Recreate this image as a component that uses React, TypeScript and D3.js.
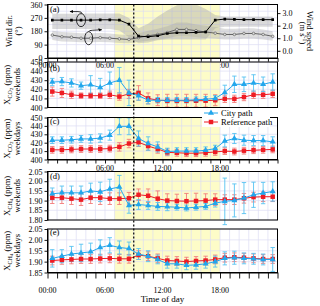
import React, { useEffect, useRef } from "react";
import * as d3 from "d3";

// ---- data (hour of day, centre of each hourly bin) ----
const hours = [0.5, 1.5, 2.5, 3.5, 4.5, 5.5, 6.5, 7.5, 8.5, 9.5, 10.5, 11.5, 12.5, 13.5, 14.5, 15.5, 16.5, 17.5, 18.5, 19.5, 20.5, 21.5, 22.5, 23.5];
const hourTicks = [0, 1, 2, 3, 4, 5, 6, 7, 8, 9, 10, 11, 12, 13, 14, 15, 16, 17, 18, 19, 20, 21, 22, 23, 24];
const labelHours = [0, 6, 12, 18];
const labelTexts = ["00:00", "06:00", "12:00", "18:00"];
const rushHours = [7, 18];
const markerHour = 9;

// panel (a): wind
const windDir = [255, 255, 255, 255, 255, 257, 257, 255, 228, 147, 143, 150, 165, 170, 170, 172, 175, 255, 262, 260, 258, 258, 258, 258];
const windDirLo = [195, 195, 195, 195, 195, 195, 195, 185, 140, 100, 105, 120, 125, 125, 125, 125, 125, 200, 210, 210, 210, 210, 210, 210];
const windDirHi = [298, 298, 298, 298, 300, 300, 300, 300, 270, 200, 230, 280, 320, 355, 375, 360, 330, 290, 280, 280, 280, 280, 280, 280];
const windSpeed = [1.25, 1.12, 1.08, 1.0, 1.0, 1.05, 1.0, 0.95, 0.9, 1.05, 1.2, 1.3, 1.45, 1.7, 1.7, 1.6, 1.5, 1.4, 1.3, 1.3, 1.38, 1.38, 1.3, 1.15];
const windSpeedLo = [0.85, 0.75, 0.72, 0.68, 0.68, 0.7, 0.68, 0.62, 0.6, 0.7, 0.8, 0.9, 1.0, 1.15, 1.15, 1.1, 1.0, 0.95, 0.9, 0.9, 0.95, 0.95, 0.9, 0.8];
const windSpeedHi = [1.6, 1.5, 1.45, 1.4, 1.4, 1.42, 1.38, 1.3, 1.25, 1.4, 1.6, 1.75, 1.95, 2.25, 2.25, 2.1, 2.0, 1.9, 1.75, 1.75, 1.8, 1.8, 1.7, 1.55];

// panel (b): CO2 weekends
const co2WeCity = [428, 428.5, 427, 424, 425, 422, 427, 430, 416, 413, 408, 408, 408, 408, 408, 408.5, 409, 410, 416.5, 425.5, 425.5, 427, 425.5, 428];
const co2WeCityErr = [4, 4.5, 4.5, 4, 10, 10, 12, 14, 14, 5, 4, 3, 3, 3, 3, 3, 3, 3, 8, 9, 8, 9, 8, 9];
const co2WeRef = [417.5, 416, 414, 413, 413, 413, 414, 412, 415, 416, 410, 408, 407.5, 407.5, 407.5, 407.5, 407.5, 408, 409.5, 409.5, 411.5, 414, 414, 415];
const co2WeRefErr = [5, 5, 4, 3, 3, 3, 4, 4, 5, 8, 6, 6, 7, 7, 7, 7, 7, 6, 4, 4, 4, 4, 4, 4];

// panel (c): CO2 weekdays
const co2WdCity = [423, 423, 423.5, 424.5, 424.5, 425.5, 429, 439.5, 439.5, 425, 419, 415, 409.5, 410, 410, 410, 411, 413, 422, 425, 423, 422.5, 422.5, 421];
const co2WdCityErr = [4, 4, 4, 4, 5, 5, 6, 10, 10, 9, 8, 6, 4, 4, 4, 4, 4, 4, 7, 6, 6, 6, 6, 6];
const co2WdRef = [411.5, 411.5, 412, 412.5, 412.5, 412.5, 413, 415, 419, 420.5, 416, 412.5, 408.5, 408, 407.5, 407.5, 408, 409, 410, 409.5, 410.5, 411, 411.5, 412];
const co2WdRefErr = [4, 4, 4, 4, 4, 4, 4, 5, 5, 5, 5, 5, 4, 4, 4, 4, 4, 4, 4, 4, 4, 4, 4, 4];

// panel (d): CH4 weekends
const ch4WeCity = [1.935, 1.94, 1.94, 1.94, 1.95, 1.945, 1.96, 1.97, 1.875, 1.88, 1.875, 1.87, 1.868, 1.866, 1.862, 1.866, 1.87, 1.887, 1.896, 1.901, 1.913, 1.93, 1.939, 1.947];
const ch4WeCityErr = [0.03, 0.035, 0.035, 0.035, 0.04, 0.05, 0.05, 0.06, 0.04, 0.025, 0.02, 0.02, 0.02, 0.015, 0.015, 0.015, 0.015, 0.02, 0.12, 0.085, 0.08, 0.065, 0.055, 0.05];
const ch4WeRef = [1.915, 1.915, 1.91, 1.905, 1.915, 1.915, 1.91, 1.91, 1.912, 1.93, 1.925, 1.91, 1.9, 1.898, 1.897, 1.898, 1.9, 1.905, 1.905, 1.905, 1.912, 1.918, 1.92, 1.92];
const ch4WeRefErr = [0.03, 0.03, 0.03, 0.03, 0.03, 0.035, 0.03, 0.03, 0.03, 0.03, 0.035, 0.04, 0.035, 0.035, 0.04, 0.04, 0.035, 0.03, 0.025, 0.025, 0.025, 0.025, 0.025, 0.025];

// panel (e): CH4 weekdays
const ch4WdCity = [1.915, 1.925, 1.935, 1.94, 1.945, 1.965, 1.975, 1.965, 1.96, 1.935, 1.925, 1.91, 1.89, 1.89, 1.883, 1.885, 1.89, 1.9, 1.915, 1.918, 1.915, 1.913, 1.91, 1.91];
const ch4WdCityErr = [0.04, 0.03, 0.035, 0.04, 0.04, 0.035, 0.035, 0.03, 0.03, 0.025, 0.025, 0.02, 0.02, 0.02, 0.02, 0.02, 0.02, 0.025, 0.03, 0.03, 0.025, 0.025, 0.025, 0.055];
const ch4WdRef = [1.905, 1.908, 1.91, 1.912, 1.912, 1.914, 1.915, 1.913, 1.913, 1.93, 1.925, 1.915, 1.905, 1.903, 1.9, 1.903, 1.905, 1.91, 1.918, 1.92, 1.918, 1.915, 1.912, 1.912];
const ch4WdRefErr = [0.02, 0.02, 0.02, 0.02, 0.02, 0.02, 0.02, 0.02, 0.02, 0.02, 0.02, 0.02, 0.02, 0.02, 0.02, 0.02, 0.02, 0.02, 0.02, 0.02, 0.02, 0.02, 0.02, 0.02];

const legendLabels = ["City path", "Reference path"];

const FONT = "'Liberation Serif', 'Times New Roman', serif";
const BLUE = "#22a6ec";
const BLUE_ERR = "#56c2f2";
const RED = "#ee1c24";
const RED_ERR = "#f27a7a";
const GRID = "#dcdcf3";
const YELLOW = "#fdfcc8";

interface Panel {
  tag: string;
  top: number;
  bottom: number;
  domain: [number, number];
  ticks: number[];
  fmt: string;
  gas: string;
  sub: string;
  period: string;
  tagY: number;
  city: number[];
  cityErr: number[];
  ref: number[];
  refErr: number[];
  xAxis: null | { tick: number; baseline: number; first: number };
}

const PANELS: Panel[] = [
  { tag: "(b)", top: 62, bottom: 107.5, domain: [400, 450], ticks: [400, 410, 420, 430, 440, 450], fmt: "d", gas: "CO", sub: "2", period: "weekends", tagY: 71, city: co2WeCity, cityErr: co2WeCityErr, ref: co2WeRef, refErr: co2WeRefErr, xAxis: null },
  { tag: "(c)", top: 117.5, bottom: 159.5, domain: [400, 450], ticks: [400, 410, 420, 430, 440, 450], fmt: "d", gas: "CO", sub: "2", period: "weekdays", tagY: 124, city: co2WdCity, cityErr: co2WdCityErr, ref: co2WdRef, refErr: co2WdRefErr, xAxis: { tick: 4, baseline: 171, first: 1 } },
  { tag: "(d)", top: 171.5, bottom: 220, domain: [1.8, 2.05], ticks: [1.8, 1.85, 1.9, 1.95, 2.0, 2.05], fmt: ".2f", gas: "CH", sub: "4", period: "weekends", tagY: 179, city: ch4WeCity, cityErr: ch4WeCityErr, ref: ch4WeRef, refErr: ch4WeRefErr, xAxis: null },
  { tag: "(e)", top: 229, bottom: 272.5, domain: [1.85, 2.05], ticks: [1.85, 1.9, 1.95, 2.0, 2.05], fmt: ".2f", gas: "CH", sub: "4", period: "weekdays", tagY: 235, city: ch4WdCity, cityErr: ch4WdCityErr, ref: ch4WdRef, refErr: ch4WdRefErr, xAxis: { tick: 6, baseline: 292.5, first: 0 } },
];

const App: React.FC = () => {
  const svgRef = useRef<SVGSVGElement>(null);

  useEffect(() => {
    if (!svgRef.current) return;
    const svg = d3.select(svgRef.current);
    svg.selectAll("*").remove();

    const x = d3.scaleLinear().domain([0, 24]).range([47.5, 277.5]);
    const [x0, x1] = x.range();

    const styleAxis = (sel: d3.Selection<SVGGElement, unknown, null, undefined>) => {
      sel.selectAll("text")
        .attr("font-family", FONT)
        .attr("font-size", 8)
        .attr("fill", "#000")
        .style("fill", "#000");
      sel.selectAll("line").attr("stroke", "#000").attr("stroke-width", 0.9);
      sel.select(".domain").attr("stroke", "#000").attr("stroke-width", 1);
    };

    // background of a panel: yellow rush-hour band + grid
    const drawBack = (top: number, bottom: number, gridYs: number[]) => {
      const g = svg.append("g");
      g.append("rect")
        .attr("x", x(rushHours[0]))
        .attr("width", x(rushHours[1]) - x(rushHours[0]))
        .attr("y", top)
        .attr("height", bottom - top)
        .attr("fill", YELLOW);
      g.selectAll("line.v")
        .data(hourTicks)
        .join("line")
        .attr("class", "v")
        .attr("x1", (d) => x(d))
        .attr("x2", (d) => x(d))
        .attr("y1", top)
        .attr("y2", bottom)
        .attr("stroke", GRID)
        .attr("stroke-width", 0.7);
      g.selectAll("line.h")
        .data(gridYs)
        .join("line")
        .attr("class", "h")
        .attr("x1", x0)
        .attr("x2", x1)
        .attr("y1", (d) => d)
        .attr("y2", (d) => d)
        .attr("stroke", GRID)
        .attr("stroke-width", 0.7);
    };

    const frame = (top: number, bottom: number) => {
      svg.append("rect")
        .attr("x", x0)
        .attr("y", top)
        .attr("width", x1 - x0)
        .attr("height", bottom - top)
        .attr("fill", "none")
        .attr("stroke", "#000")
        .attr("stroke-width", 1);
    };

    // hourly ticks below a panel, time labels every 6 h
    const xAxis = (yPos: number, tick: number, baseline: number, first: number) => {
      const ax = svg.append("g")
        .attr("transform", `translate(0,${yPos})`)
        .call(d3.axisBottom(x).tickValues(hourTicks).tickSize(tick).tickSizeOuter(0).tickFormat(() => ""));
      styleAxis(ax);
      svg.append("g")
        .selectAll("text")
        .data(labelHours.slice(first))
        .join("text")
        .attr("x", (d) => x(d))
        .attr("y", baseline)
        .attr("text-anchor", "middle")
        .attr("font-family", FONT)
        .attr("font-size", 8)
        .style("fill", "#000")
        .text((d) => labelTexts[labelHours.indexOf(d)]);
    };

    const rotLabel = (
      xPos: number,
      yPos: number,
      angle: number,
      build: (t: d3.Selection<SVGTextElement, unknown, null, undefined>) => void,
    ) => {
      const t = svg.append("text")
        .attr("transform", `translate(${xPos},${yPos}) rotate(${angle})`)
        .attr("text-anchor", "middle")
        .attr("font-family", FONT)
        .attr("font-size", 8.5)
        .attr("fill", "#000");
      build(t);
    };

    // ---------------- panel (a) ----------------
    const aTop = 4.5;
    const aBottom = 58;
    const yDir = d3.scaleLinear().domain([0, 360]).range([aBottom, aTop]);
    const ySpd = d3.scaleLinear().domain([0, 3]).range([50.8, 13.1]);

    drawBack(aTop, aBottom, [45, 90, 135, 180, 225, 270, 315].map((d) => yDir(d)));

    const defs = svg.append("defs");
    defs.append("clipPath").attr("id", "clipA")
      .append("rect").attr("x", x0).attr("y", aTop).attr("width", x1 - x0).attr("height", aBottom - aTop);
    defs.append("marker")
      .attr("id", "arrow")
      .attr("viewBox", "0 0 10 10")
      .attr("refX", 8)
      .attr("refY", 5)
      .attr("markerWidth", 5)
      .attr("markerHeight", 5)
      .attr("orient", "auto")
      .append("path")
      .attr("d", "M0,1 L9,5 L0,9 z")
      .attr("fill", "#000");

    const ga = svg.append("g").attr("clip-path", "url(#clipA)");
    const idx = hours.map((_, i) => i);

    ga.append("path")
      .datum(idx)
      .attr("d", d3.area<number>().x((i) => x(hours[i])).y0((i) => yDir(windDirLo[i])).y1((i) => yDir(windDirHi[i])))
      .attr("fill", "#a8a8a8")
      .attr("fill-opacity", 0.42);
    ga.append("path")
      .datum(idx)
      .attr("d", d3.area<number>().x((i) => x(hours[i])).y0((i) => ySpd(windSpeedLo[i])).y1((i) => ySpd(windSpeedHi[i])))
      .attr("fill", "#a8a8a8")
      .attr("fill-opacity", 0.38);

    ga.append("path")
      .datum(idx)
      .attr("d", d3.line<number>().x((i) => x(hours[i])).y((i) => ySpd(windSpeed[i])))
      .attr("fill", "none")
      .attr("stroke", "#555")
      .attr("stroke-width", 0.9);
    ga.selectAll("circle.spd")
      .data(idx)
      .join("circle")
      .attr("class", "spd")
      .attr("cx", (i) => x(hours[i]))
      .attr("cy", (i) => ySpd(windSpeed[i]))
      .attr("r", 1.3)
      .attr("fill", "#ddd")
      .attr("stroke", "#555")
      .attr("stroke-width", 0.6);

    ga.append("path")
      .datum(idx)
      .attr("d", d3.line<number>().x((i) => x(hours[i])).y((i) => yDir(windDir[i])))
      .attr("fill", "none")
      .attr("stroke", "#000")
      .attr("stroke-width", 1);
    ga.selectAll("path.dir")
      .data(idx)
      .join("path")
      .attr("class", "dir")
      .attr("transform", (i) => `translate(${x(hours[i])},${yDir(windDir[i])})`)
      .attr("d", d3.symbol(d3.symbolSquare, 7)())
      .attr("fill", "#000");

    // ellipses + arrows marking which axis each line belongs to
    const e1x = x(3.5);
    const e1y = yDir(windDir[3]);
    svg.append("ellipse").attr("cx", e1x).attr("cy", e1y).attr("rx", 4.5).attr("ry", 6.5)
      .attr("fill", "none").attr("stroke", "#000").attr("stroke-width", 0.8);
    svg.append("path")
      .attr("d", `M${e1x + 1},${e1y - 6.5} Q${e1x + 1},${e1y - 8.5} ${e1x - 3},${e1y - 8.5} L${e1x - 11},${e1y - 8.5}`)
      .attr("fill", "none").attr("stroke", "#000").attr("stroke-width", 0.8).attr("marker-end", "url(#arrow)");
    const e2x = x(4.3);
    const e2y = ySpd(windSpeed[4]);
    svg.append("ellipse").attr("cx", e2x).attr("cy", e2y).attr("rx", 4).attr("ry", 6.5)
      .attr("fill", "none").attr("stroke", "#000").attr("stroke-width", 0.8);
    svg.append("path")
      .attr("d", `M${e2x},${e2y - 6.5} Q${e2x},${e2y - 8} ${e2x + 4},${e2y - 8} L${e2x + 13},${e2y - 8.5}`)
      .attr("fill", "none").attr("stroke", "#000").attr("stroke-width", 0.8).attr("marker-end", "url(#arrow)");

    frame(aTop, aBottom);
    const axL = svg.append("g").attr("transform", `translate(${x0},0)`)
      .call(d3.axisLeft(yDir).tickValues([0, 90, 180, 270, 360]).tickSize(3).tickSizeOuter(0).tickPadding(2));
    styleAxis(axL);
    const axR = svg.append("g").attr("transform", `translate(${x1},0)`)
      .call(d3.axisRight(ySpd).tickValues([0, 1, 2, 3]).tickSize(3).tickSizeOuter(0).tickPadding(2).tickFormat(d3.format(".1f")));
    axR.select(".domain").remove();
    styleAxis(axR);
    xAxis(aBottom, 4, 67.5, 0);

    svg.append("text").attr("x", 50).attr("y", 12).attr("font-family", FONT).attr("font-size", 8.5).text("(a)");

    rotLabel(11.5, 31, -90, (t) => t.text("Wind dir."));
    rotLabel(20.5, 31, -90, (t) => t.text("(\u00b0)"));
    rotLabel(307, 31, 90, (t) => t.text("Wind speed"));
    rotLabel(299.5, 33, 90, (t) => {
      t.append("tspan").text("(m s");
      t.append("tspan").attr("font-size", 6).attr("dy", -3).text("-1");
      t.append("tspan").attr("dy", 3).text(")");
    });

    // ---------------- panels (b)-(e) ----------------
    PANELS.forEach((p) => {
      const y = d3.scaleLinear().domain(p.domain).range([p.bottom, p.top]);
      drawBack(p.top, p.bottom, p.ticks.map((d) => y(d)));

      const g = svg.append("g");
      const series = [
        { vals: p.ref, errs: p.refErr, color: RED, err: RED_ERR, sym: d3.symbolSquare, size: 20 },
        { vals: p.city, errs: p.cityErr, color: BLUE, err: BLUE_ERR, sym: d3.symbolTriangle, size: 16 },
      ];
      series.forEach((s) => {
        const eb = g.append("g").attr("stroke", s.err).attr("stroke-width", 0.9);
        idx.forEach((i) => {
          const cx = x(hours[i]);
          const yHi = y(s.vals[i] + s.errs[i]);
          const yLo = y(s.vals[i] - s.errs[i]);
          eb.append("line").attr("x1", cx).attr("x2", cx).attr("y1", yHi).attr("y2", yLo);
          eb.append("line").attr("x1", cx - 2.2).attr("x2", cx + 2.2).attr("y1", yHi).attr("y2", yHi);
          eb.append("line").attr("x1", cx - 2.2).attr("x2", cx + 2.2).attr("y1", yLo).attr("y2", yLo);
        });
      });
      series.forEach((s) => {
        g.append("path")
          .datum(idx)
          .attr("d", d3.line<number>().x((i) => x(hours[i])).y((i) => y(s.vals[i])))
          .attr("fill", "none")
          .attr("stroke", s.color)
          .attr("stroke-width", 1);
        g.selectAll(null)
          .data(idx)
          .join("path")
          .attr("transform", (i) => `translate(${x(hours[i])},${y(s.vals[i])})`)
          .attr("d", d3.symbol(s.sym, s.size)())
          .attr("fill", s.color);
      });

      frame(p.top, p.bottom);
      const ax = svg.append("g").attr("transform", `translate(${x0},0)`)
        .call(d3.axisLeft(y).tickValues(p.ticks).tickSize(3).tickSizeOuter(0).tickPadding(2).tickFormat(d3.format(p.fmt)));
      styleAxis(ax);
      if (p.xAxis) xAxis(p.bottom, p.xAxis.tick, p.xAxis.baseline, p.xAxis.first);

      svg.append("text").attr("x", 50).attr("y", p.tagY).attr("font-family", FONT).attr("font-size", 8.5).text(p.tag);

      const mid = (p.top + p.bottom) / 2;
      rotLabel(10, mid, -90, (t) => {
        t.append("tspan").text("X");
        t.append("tspan").attr("font-size", 6).attr("dy", 2).text(p.gas);
        t.append("tspan").attr("font-size", 5).attr("dy", 1).text(p.sub);
        t.append("tspan").attr("dy", -3).text(" (ppm)");
      });
      rotLabel(20, mid, -90, (t) => t.text(p.period));
    });

    // legend inside panel (c)
    const lg = svg.append("g").attr("transform", "translate(202,108)");
    lg.append("rect").attr("width", 68).attr("height", 19).attr("fill", "#fff");
    const legendItems = [
      { label: legendLabels[0], color: BLUE, sym: d3.symbolTriangle, size: 16 },
      { label: legendLabels[1], color: RED, sym: d3.symbolSquare, size: 20 },
    ];
    legendItems.forEach((it, i) => {
      const ly = 5 + i * 9;
      lg.append("line").attr("x1", 2).attr("x2", 16).attr("y1", ly).attr("y2", ly).attr("stroke", it.color).attr("stroke-width", 1);
      lg.append("path").attr("transform", `translate(9,${ly})`).attr("d", d3.symbol(it.sym, it.size)()).attr("fill", it.color);
      lg.append("text").attr("x", 19).attr("y", ly + 3).attr("font-family", FONT).attr("font-size", 8.5).text(it.label);
    });

    // vertical dotted marker
    svg.append("line")
      .attr("x1", x(markerHour))
      .attr("x2", x(markerHour))
      .attr("y1", aTop)
      .attr("y2", 272.5)
      .attr("stroke", "#000")
      .attr("stroke-width", 1.2)
      .attr("stroke-dasharray", "2,2");

    svg.append("text")
      .attr("x", x(12))
      .attr("y", 302)
      .attr("text-anchor", "middle")
      .attr("font-family", FONT)
      .attr("font-size", 9)
      .text("Time of day");
  }, []);

  return (
    <svg
      ref={svgRef}
      width={320}
      height={306}
      style={{ position: "absolute", left: 0, top: 0, background: "#fff", color: "#000" }}
    />
  );
};

export default App;
